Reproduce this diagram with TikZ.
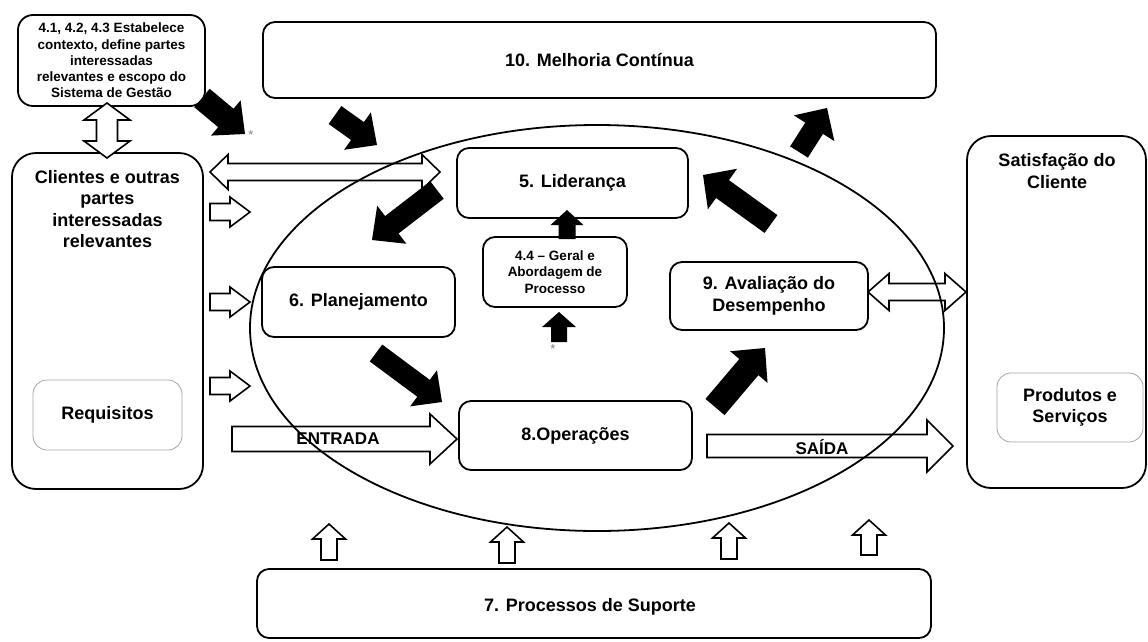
\documentclass[tikz,border=0pt]{standalone}
\usepackage{fontspec}
\setmainfont{Liberation Sans}
\usetikzlibrary{calc}

\newcommand\mainlbl{\fontsize{18}{21.5}\selectfont\bfseries}
\newcommand\smalllbl{\fontsize{13.5}{16.3}\selectfont\bfseries}

% single-headed block arrow: [style]{tail}{tip}{half shaft}{half head}{head length}
\newcommand\blockarrow[6][]{%
  \coordinate (bab) at ($(#3)!#6!(#2)$);
  \path[#1] ($(#2)!#4!90:(#3)$) -- ($(bab)!#4!90:(#3)$) -- ($(bab)!#5!90:(#3)$)
    -- (#3) -- ($(bab)!#5!-90:(#3)$) -- ($(bab)!#4!-90:(#3)$)
    -- ($(#2)!#4!-90:(#3)$) -- cycle;
}
% double-headed block arrow: [style]{tip one}{tip two}{half shaft}{half head}{head length}
\newcommand\doublearrow[6][]{%
  \coordinate (dbA) at ($(#2)!#6!(#3)$);
  \coordinate (dbB) at ($(#3)!#6!(#2)$);
  \path[#1] (#2) -- ($(dbA)!#5!90:(#3)$) -- ($(dbA)!#4!90:(#3)$)
    -- ($(dbB)!#4!-90:(#2)$) -- ($(dbB)!#5!-90:(#2)$) -- (#3)
    -- ($(dbB)!#5!90:(#2)$) -- ($(dbB)!#4!90:(#2)$)
    -- ($(dbA)!#4!-90:(#3)$) -- ($(dbA)!#5!-90:(#3)$) -- cycle;
}

\begin{document}
\begin{tikzpicture}[x=1pt,y=-1pt,
  box/.style={draw, line width=1.8pt, rounded corners=12pt, fill=white,
    inner sep=0pt, align=center, font=\mainlbl},
  bigbox/.style={box, rounded corners=24pt},
  softbox/.style={draw=gray!70, line width=0.8pt, rounded corners=14pt, fill=white,
    inner sep=0pt, align=center, font=\mainlbl},
  txt/.style={inner sep=0pt, align=center, font=\mainlbl},
  solidarrow/.style={fill=black},
  openarrow/.style={draw=black, line width=1.6pt, line join=miter},
  whitearrow/.style={openarrow, fill=white},
  star/.style={inner sep=0pt, text=gray, font=\fontsize{13}{13}\selectfont}]

\fill[white] (0,0) rectangle (1148,641);
\useasboundingbox (0,0) rectangle (1148,641);

% the process cycle
\draw[line width=1.8pt] (597,328) ellipse [x radius=347, y radius=203];

% boxes
\node[box, rounded corners=15pt, minimum width=187, minimum height=91, font=\smalllbl]
  (ctx) at (111.5,60.5) {4.1, 4.2, 4.3 Estabelece\\contexto, define partes\\interessadas\\relevantes e escopo do\\Sistema de Gestão};
\node[box, minimum width=673, minimum height=76] (melhoria) at (599.5,60) {10. Melhoria Contínua};
\node[bigbox, minimum width=191, minimum height=336] (clientes) at (107.5,321) {};
\node[txt] (clientestxt) at (107.5,209) {Clientes e outras\\partes\\interessadas\\relevantes};
\node[softbox, minimum width=149, minimum height=70] (requisitos) at (107.5,415) {Requisitos};
\node[box, minimum width=231, minimum height=70] (lideranca) at (572.5,183) {5. Liderança};
\node[box, minimum width=144, minimum height=70, font=\smalllbl] (geral) at (555,272) {4.4 – Geral e\\Abordagem de\\Processo};
\node[box, minimum width=193, minimum height=70] (planej) at (358.5,302) {6. Planejamento};
\node[box, minimum width=198, minimum height=68] (avaliacao) at (769,296) {9. Avaliação do\\Desempenho};
\node[box, minimum width=233, minimum height=69] (operacoes) at (575.5,435.5) {8.Operações};
\node[bigbox, minimum width=179, minimum height=352] (satisf) at (1056.5,312) {};
\node[txt] (satisftxt) at (1057,171) {Satisfação do\\Cliente};
\node[softbox, minimum width=146, minimum height=69] (produtos) at (1070,407.5) {Produtos e\\Serviços};
\node[box, minimum width=674, minimum height=69] (suporte) at (594,603.5) {};
\node[txt] (suportetxt) at (590,607) {7. Processos de Suporte};

% end points of the block arrows
\coordinate (a1t) at (202,98);   \coordinate (a1h) at (245,134);
\coordinate (a2t) at (335,115);  \coordinate (a2h) at (377,145);
\coordinate (a3t) at (437,190);  \coordinate (a3h) at (372,240);
\coordinate (a4t) at (376,353);  \coordinate (a4h) at (442,402);
\coordinate (a5t) at (715,407);  \coordinate (a5h) at (765,348);
\coordinate (a6t) at (771,224);  \coordinate (a6h) at (703,175);
\coordinate (a7t) at (799,152);  \coordinate (a7h) at (827,108);
\coordinate (u1t) at (567,239);  \coordinate (u1h) at (567,210);
\coordinate (u2t) at (559,342);  \coordinate (u2h) at (559,312);

% black flow arrows
\blockarrow[solidarrow]{a1t}{a1h}{12pt}{23pt}{25pt}
\blockarrow[solidarrow]{a2t}{a2h}{11pt}{23pt}{24pt}
\blockarrow[solidarrow]{a3t}{a3h}{11pt}{24pt}{25pt}
\blockarrow[solidarrow]{a4t}{a4h}{10.5pt}{22.5pt}{23pt}
\blockarrow[solidarrow]{a5t}{a5h}{12.5pt}{24.5pt}{25pt}
\blockarrow[solidarrow]{a6t}{a6h}{11pt}{25pt}{24pt}
\blockarrow[solidarrow]{a7t}{a7h}{10.5pt}{24pt}{24pt}
\blockarrow[solidarrow]{u1t}{u1h}{8.5pt}{16.5pt}{15pt}
\blockarrow[solidarrow]{u2t}{u2h}{8pt}{17pt}{15pt}

\node[star] (star1) at (251,135) {*};
\node[star] (star2) at (553,349) {*};

% outlined arrows
\coordinate (w1t) at (210,212); \coordinate (w1h) at (250,212);
\coordinate (w2t) at (210,302); \coordinate (w2h) at (250,302);
\coordinate (w3t) at (210,386); \coordinate (w3h) at (250,386);
\blockarrow[openarrow]{w1t}{w1h}{8.5pt}{15pt}{20pt}
\blockarrow[openarrow]{w2t}{w2h}{8.5pt}{15pt}{20pt}
\blockarrow[openarrow]{w3t}{w3h}{8.5pt}{15pt}{20pt}

\coordinate (inT) at (232,439); \coordinate (inH) at (457,439);
\blockarrow[openarrow]{inT}{inH}{12.5pt}{25pt}{27pt}
\node[txt, font=\fontsize{17}{17}\selectfont\bfseries] (entrada) at (338,439) {ENTRADA};

\coordinate (outT) at (707,446); \coordinate (outH) at (953,446);
\blockarrow[openarrow]{outT}{outH}{11.5pt}{26pt}{26pt}
\node[txt, font=\fontsize{17}{17}\selectfont\bfseries] (saida) at (822,447) {SAÍDA};

\coordinate (s1t) at (329,560); \coordinate (s1h) at (329,524);
\coordinate (s2t) at (507,563); \coordinate (s2h) at (507,527);
\coordinate (s3t) at (729,559); \coordinate (s3h) at (729,523);
\coordinate (s4t) at (869,555); \coordinate (s4h) at (869,520);
\blockarrow[openarrow]{s1t}{s1h}{8pt}{16.5pt}{15pt}
\blockarrow[openarrow]{s2t}{s2h}{8pt}{16.5pt}{15pt}
\blockarrow[openarrow]{s3t}{s3h}{8pt}{16.5pt}{15pt}
\blockarrow[openarrow]{s4t}{s4h}{8pt}{16.5pt}{15pt}

\coordinate (v1) at (107,103); \coordinate (v2) at (107,158);
\doublearrow[whitearrow]{v1}{v2}{10.5pt}{23pt}{17pt}
\coordinate (h1) at (210,172); \coordinate (h2) at (440,172);
\doublearrow[openarrow]{h1}{h2}{8.5pt}{17.5pt}{18pt}
\coordinate (r1) at (868,292); \coordinate (r2) at (966,292);
\doublearrow[openarrow]{r1}{r2}{8.5pt}{18.5pt}{21pt}

\end{tikzpicture}
\end{document}
